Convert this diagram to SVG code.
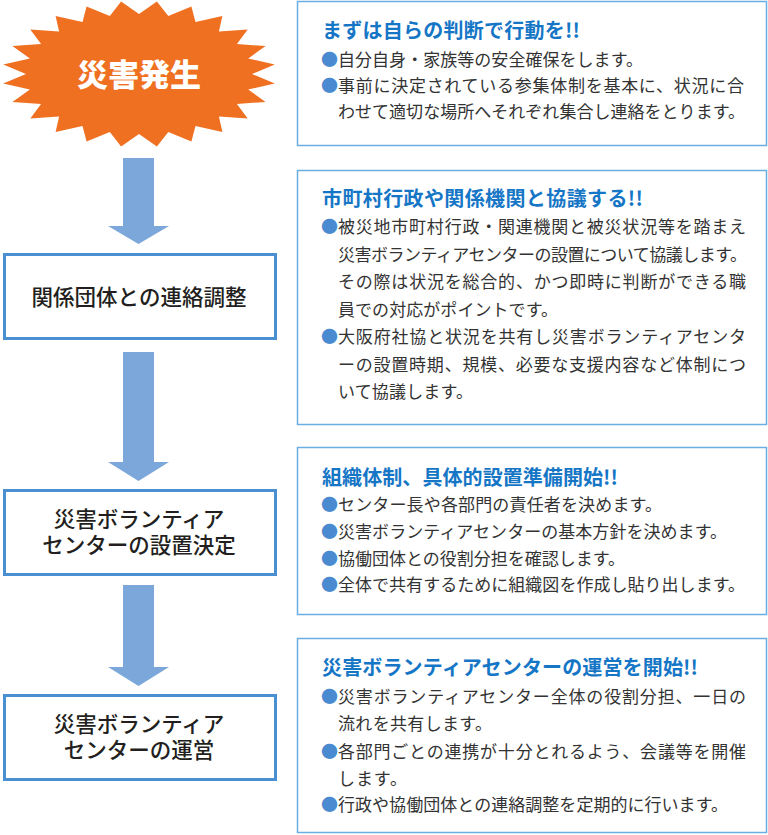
<svg xmlns="http://www.w3.org/2000/svg" width="768" height="835" viewBox="0 0 768 835">
<style>
text{font-family:"Noto Sans CJK JP","Noto Sans CJK SC",sans-serif}
.burst{fill:#f07021}
.burst-t{fill:#ffffff;font-size:31px;font-weight:900;text-anchor:middle}
.box{fill:#ffffff;stroke:#4a8fd2;stroke-width:3}
.box-t{fill:#231f20;font-size:21.5px;font-weight:500;text-anchor:middle}
.arrow{fill:#7ba7da}
.panel{fill:#ffffff;stroke:#6aaee0;stroke-width:1.5}
.title{fill:#1676c6;font-size:20px;font-weight:bold}
.body{fill:#333333;font-size:17px}
.bul{fill:#4a8ad0;font-size:17px}
</style>
<rect width="768" height="835" fill="#ffffff"/>

<g id="connectors">
<path class="arrow" d="M123,158 H154 V226 H169 L138.5,244 L108,226 H123 Z"/>
<path class="arrow" d="M123,352 H154 V462 H169 L138.5,481 L108,462 H123 Z"/>
<path class="arrow" d="M123,585 H154 V667 H169 L138.5,686 L108,667 H123 Z"/>
</g>

<g id="node-disaster">
<polygon class="burst" points="252,74 274.8,83.5 248.2,89.5 265.6,101.9 236.9,104 247.7,118.4 218.9,116.4 222.4,131.9 195.5,126 191.4,141.4 168.3,132 156.9,146.4 139,134 121.1,146.4 109.8,132 86.6,141.4 82.5,126 55.6,131.9 59.1,116.4 30.3,118.4 41.1,104 12.4,101.9 29.9,89.5 3.2,83.5 26,74 3.2,64.5 29.9,58.5 12.4,46.1 41.1,44 30.3,29.6 59.1,31.6 55.6,16.1 82.5,22 86.6,6.6 109.8,16 121.1,1.6 139,14 156.9,1.6 168.3,16 191.4,6.6 195.5,22 222.4,16.1 218.9,31.6 247.7,29.6 236.9,44 265.6,46.1 248.2,58.5 274.8,64.5"/>
<text class="burst-t" x="139" y="86">災害発生</text>
</g>

<g id="node-coordination">
<rect class="box" x="4.5" y="254.5" width="271" height="84"/>
<text class="box-t" x="139" y="305">関係団体との連絡調整</text>
</g>

<g id="node-decision">
<rect class="box" x="4.5" y="490.5" width="271" height="84"/>
<text class="box-t" x="139" y="526.5">災害ボランティア<tspan x="139" dy="26">センターの設置決定</tspan></text>
</g>

<g id="node-operation">
<rect class="box" x="4.5" y="695.5" width="271" height="84"/>
<text class="box-t" x="139" y="731.5">災害ボランティア<tspan x="139" dy="26">センターの運営</tspan></text>
</g>

<g id="panel-1">
<rect class="panel" x="297.5" y="1.5" width="469" height="144"/>
<text class="title" x="322" y="38" textLength="258" lengthAdjust="spacing">まずは自らの判断で行動を!!</text>
<text class="bul" x="321" y="66">●</text>
<text class="body" x="338" y="66" textLength="305" lengthAdjust="spacing">自分自身・家族等の安全確保をします。</text>
<text class="bul" x="321" y="92">●</text>
<text class="body" x="338" y="92" textLength="406" lengthAdjust="spacing">事前に決定されている参集体制を基本に、状況に合</text>
<text class="body" x="338" y="118" textLength="407" lengthAdjust="spacing">わせて適切な場所へそれぞれ集合し連絡をとります。</text>
</g>

<g id="panel-2">
<rect class="panel" x="297.5" y="170.5" width="469" height="254"/>
<text class="title" x="322" y="206" textLength="321" lengthAdjust="spacing">市町村行政や関係機関と協議する!!</text>
<text class="bul" x="321" y="233">●</text>
<text class="body" x="338" y="233" textLength="408" lengthAdjust="spacing">被災地市町村行政・関連機関と被災状況等を踏まえ</text>
<text class="body" x="338" y="260.5" textLength="409" lengthAdjust="spacing">災害ボランティアセンターの設置について協議します。</text>
<text class="body" x="338" y="288" textLength="408" lengthAdjust="spacing">その際は状況を総合的、かつ即時に判断ができる職</text>
<text class="body" x="338" y="315.5" textLength="220" lengthAdjust="spacing">員での対応がポイントです。</text>
<text class="bul" x="321" y="343">●</text>
<text class="body" x="338" y="343" textLength="408" lengthAdjust="spacing">大阪府社協と状況を共有し災害ボランティアセンタ</text>
<text class="body" x="338" y="370.5" textLength="408" lengthAdjust="spacing">ーの設置時期、規模、必要な支援内容など体制につ</text>
<text class="body" x="338" y="398" textLength="135" lengthAdjust="spacing">いて協議します。</text>
</g>

<g id="panel-3">
<rect class="panel" x="297.5" y="447.5" width="469" height="167"/>
<text class="title" x="322" y="485" textLength="296" lengthAdjust="spacing">組織体制、具体的設置準備開始!!</text>
<text class="bul" x="321" y="511">●</text>
<text class="body" x="338" y="511" textLength="324" lengthAdjust="spacing">センター長や各部門の責任者を決めます。</text>
<text class="bul" x="321" y="538">●</text>
<text class="body" x="338" y="538" textLength="389" lengthAdjust="spacing">災害ボランティアセンターの基本方針を決めます。</text>
<text class="bul" x="321" y="565">●</text>
<text class="body" x="338" y="565" textLength="287" lengthAdjust="spacing">協働団体との役割分担を確認します。</text>
<text class="bul" x="321" y="591">●</text>
<text class="body" x="338" y="591" textLength="407" lengthAdjust="spacing">全体で共有するために組織図を作成し貼り出します。</text>
</g>

<g id="panel-4">
<rect class="panel" x="297.5" y="638.5" width="469" height="194"/>
<text class="title" x="322" y="675" textLength="376" lengthAdjust="spacing">災害ボランティアセンターの運営を開始!!</text>
<text class="bul" x="321" y="703">●</text>
<text class="body" x="338" y="703" textLength="408" lengthAdjust="spacing">災害ボランティアセンター全体の役割分担、一日の</text>
<text class="body" x="338" y="730" textLength="154" lengthAdjust="spacing">流れを共有します。</text>
<text class="bul" x="321" y="758">●</text>
<text class="body" x="338" y="758" textLength="408" lengthAdjust="spacing">各部門ごとの連携が十分とれるよう、会議等を開催</text>
<text class="body" x="338" y="785" textLength="69" lengthAdjust="spacing">します。</text>
<text class="bul" x="321" y="811">●</text>
<text class="body" x="338" y="811" textLength="390" lengthAdjust="spacing">行政や協働団体との連絡調整を定期的に行います。</text>
</g>
</svg>
